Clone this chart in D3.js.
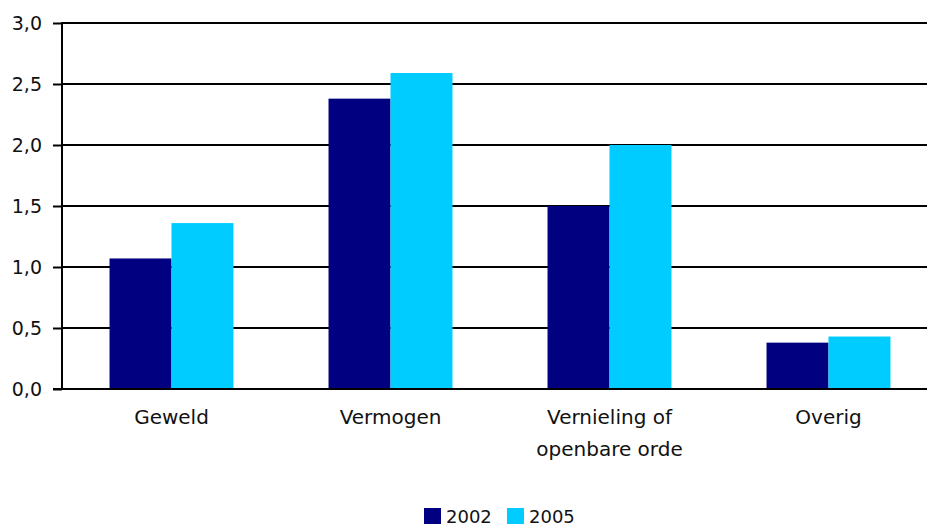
<!DOCTYPE html>
<html>
<head>
<meta charset="utf-8">
<script src="https://cdn.jsdelivr.net/npm/d3@7"></script>
<style>
  body { margin: 0; background: #fff; }
  text { font-family: "DejaVu Sans", "Liberation Sans", Arial, sans-serif; fill: #111; }
</style>
</head>
<body>
<svg id="chart" width="927" height="524"></svg>
<script>
// data
var categories = [["Geweld"], ["Vermogen"], ["Vernieling of", "openbare orde"], ["Overig"]];
var years = ["2002", "2005"];
var values2002 = [1.07, 2.38, 1.50, 0.38];
var values2005 = [1.36, 2.59, 2.00, 0.43];
var yTicks = [0, 0.5, 1, 1.5, 2, 2.5, 3];
var colors = ["#000080", "#00ccff"];

var svg = d3.select("#chart");
// plot box (right edge runs past the picture, like the original)
var plotL = 62, plotR = 938, plotT = 23, plotB = 389;

var x = d3.scaleBand()
	.domain(d3.range(categories.length))
	.range([plotL, plotR])
	.paddingInner(0.434)
	.paddingOuter(0.217);

var x1 = d3.scaleBand().domain(years).range([0, x.bandwidth()]);

var y = d3.scaleLinear().domain([0, 3]).range([plotB, plotT]);

// gridlines
svg.append("g").selectAll("line")
	.data(yTicks.slice(1))
	.enter().append("line")
	.attr("x1", plotL).attr("x2", 927)
	.attr("y1", function(d){ return y(d); })
	.attr("y2", function(d){ return y(d); })
	.attr("stroke", "#000").attr("stroke-width", 2);

// bars
var series = [values2002, values2005];
series.forEach(function(vals, si){
	svg.append("g").selectAll("rect")
		.data(vals)
		.enter().append("rect")
		.attr("x", function(d, i){ return x(i) + x1(years[si]); })
		.attr("width", x1.bandwidth())
		.attr("y", function(d){ return y(d); })
		.attr("height", function(d){ return y(0) - y(d); })
		.attr("fill", colors[si]);
});

// y axis
var yAxis = d3.axisLeft(y)
	.tickValues(yTicks)
	.tickSize(9)
	.tickPadding(11)
	.tickFormat(function(d){ return d3.format(".1f")(d).replace(".", ","); });

var ya = svg.append("g").attr("transform", "translate(" + plotL + ",0)").call(yAxis);
ya.select(".domain").remove();
ya.selectAll("line").attr("stroke", "#000").attr("stroke-width", 2);
ya.selectAll("text").style("font-size", "19px").attr("fill", "#111");

svg.append("line")
	.attr("x1", plotL).attr("x2", plotL)
	.attr("y1", y(3) - 1).attr("y2", y(0) + 1)
	.attr("stroke", "#000").attr("stroke-width", 2);

// baseline
svg.append("line")
	.attr("x1", plotL - 9).attr("x2", 927)
	.attr("y1", y(0)).attr("y2", y(0))
	.attr("stroke", "#000").attr("stroke-width", 2);

// category labels
var lab = svg.append("g").selectAll("text")
	.data(categories)
	.enter().append("text")
	.attr("text-anchor", "middle")
	.style("font-size", "20px")
	.attr("transform", function(d, i){ return "translate(" + (x(i) + x.bandwidth()/2) + ",424)"; });

lab.selectAll("tspan")
	.data(function(d){ return d; })
	.enter().append("tspan")
	.attr("x", 0)
	.attr("y", function(d, i){ return i * 32; })
	.text(function(d){ return d; });

// legend
var legendX = [424, 507];
var leg = svg.append("g").selectAll("g")
	.data(years)
	.enter().append("g")
	.attr("transform", function(d, i){ return "translate(" + legendX[i] + ",508)"; });

leg.append("rect").attr("width", 17).attr("height", 16)
	.attr("fill", function(d, i){ return colors[i]; });
leg.append("text").attr("x", 22).attr("y", 15)
	.style("font-size", "18px")
	.text(function(d){ return d; });
</script>
</body>
</html>
